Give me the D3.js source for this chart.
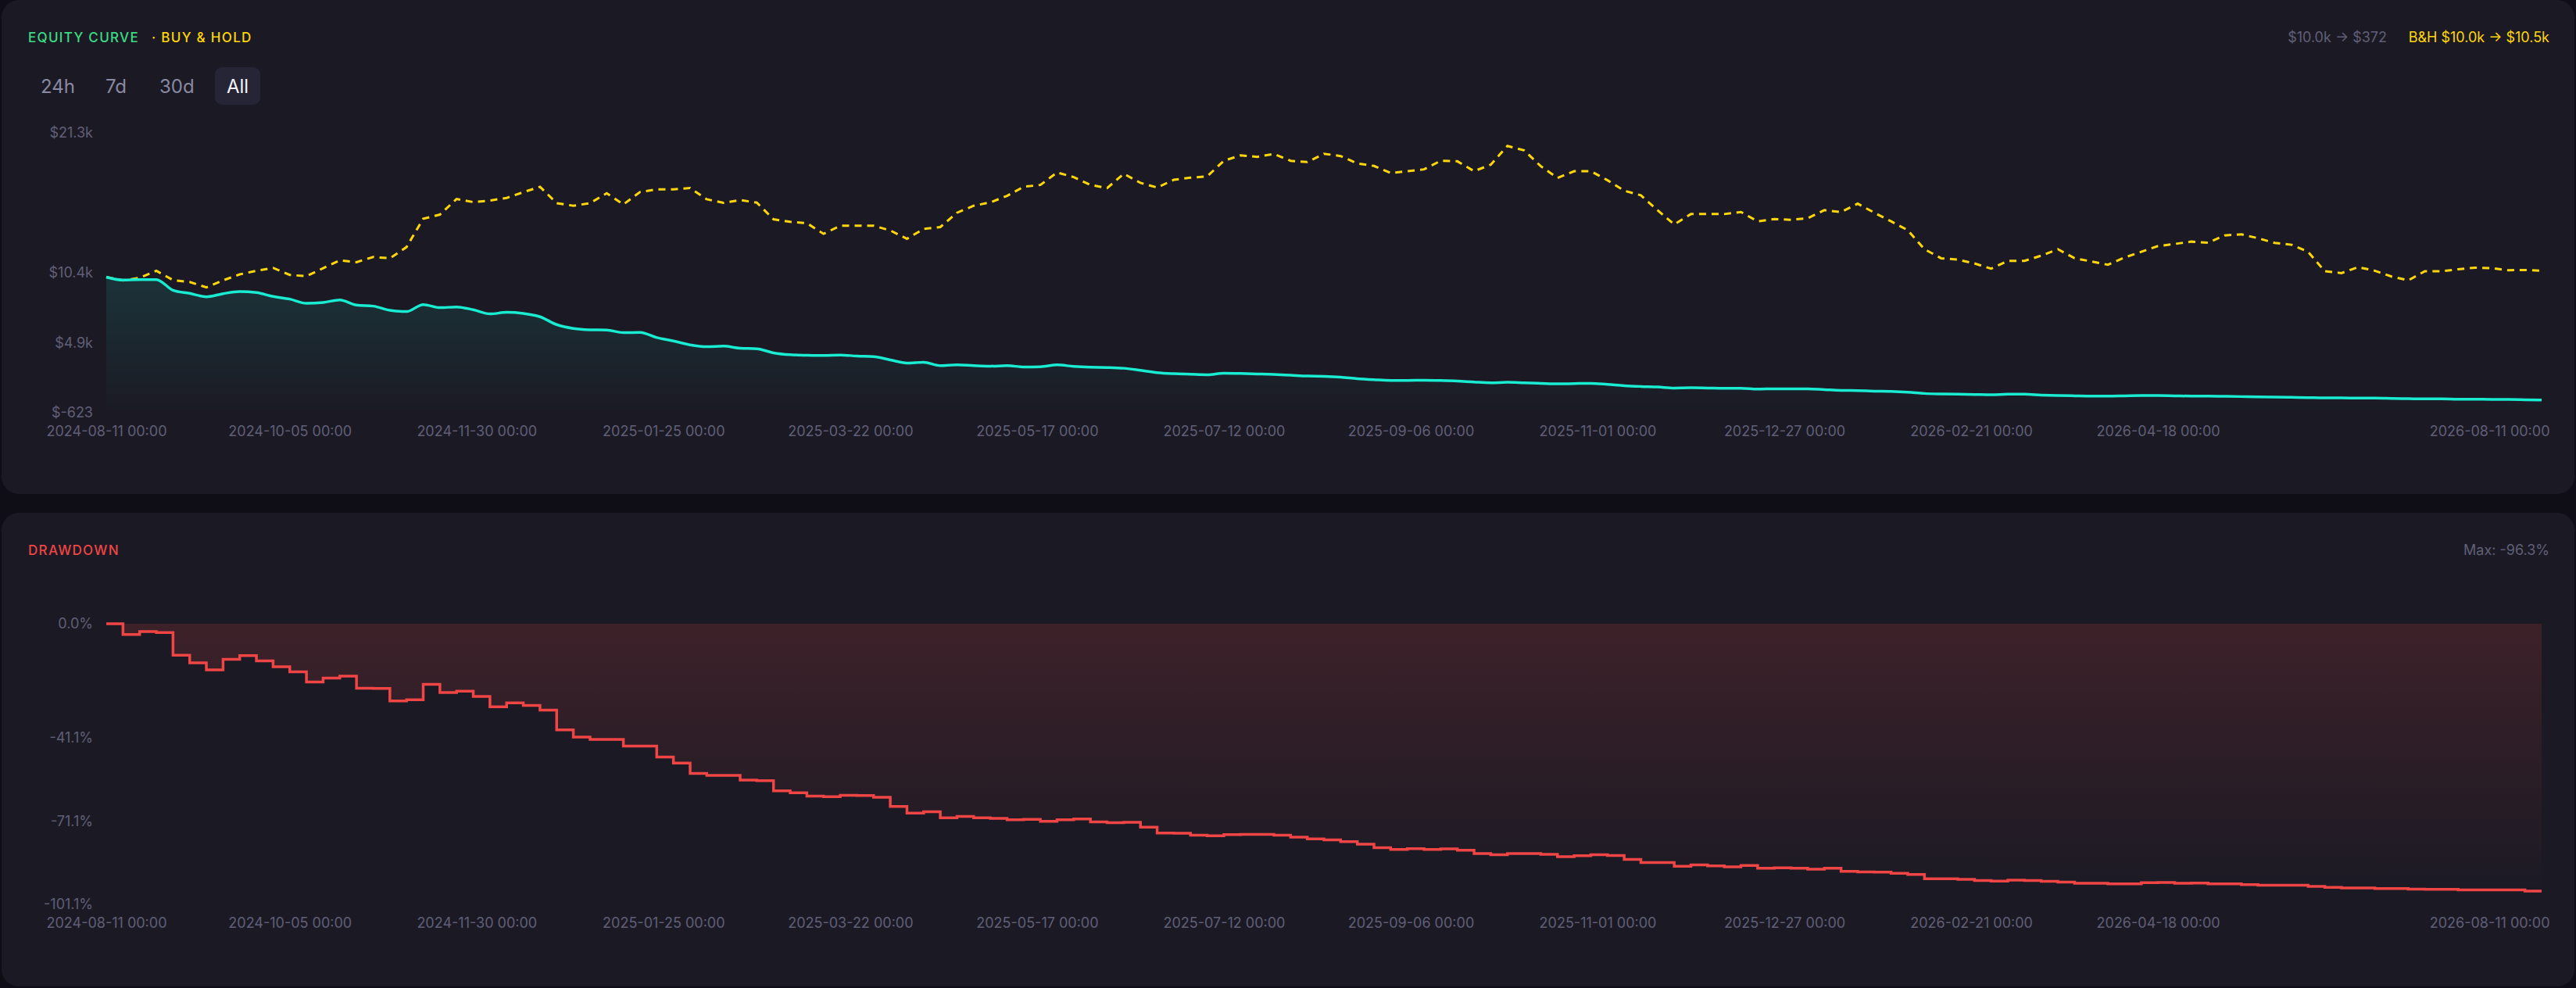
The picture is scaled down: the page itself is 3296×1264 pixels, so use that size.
<!DOCTYPE html>
<html>
<head>
<meta charset="utf-8">
<script src="https://cdn.jsdelivr.net/npm/d3@7"></script>
<style>
  html, body { margin: 0; padding: 0; background: #0f0e17; }
  svg { display: block; font-family: Inter, "Noto Sans", sans-serif; }
</style>
</head>
<body>
<svg id="chart" width="3296" height="1264"></svg>
<script>

// sampled every 5 days from the first date
var startDate = "2024-08-11";
var stepDays = 5;

var equity = [
  10000, 9765, 9806, 9806, 8971, 8726, 8462, 8706, 8869, 8788,
  8482, 8278, 7952, 8013, 8217, 7810, 7728, 7402, 7300, 7850,
  7606, 7667, 7443, 7117, 7239, 7158, 6893, 6282, 5976, 5874,
  5854, 5650, 5671, 5263, 4998, 4693, 4550, 4591, 4428, 4388,
  4062, 3919, 3879, 3858, 3899, 3817, 3777, 3512, 3267, 3328,
  3063, 3124, 3063, 3023, 3063, 2962, 2982, 3124, 3002, 2941,
  2921, 2860, 2697, 2514, 2432, 2391, 2351, 2473, 2452, 2412,
  2371, 2310, 2249, 2229, 2167, 2045, 1964, 1903, 1903, 1923,
  1903, 1862, 1781, 1720, 1760, 1720, 1679, 1638, 1659, 1679,
  1598, 1496, 1435, 1394, 1313, 1333, 1313, 1292, 1292, 1230,
  1251, 1251, 1251, 1190, 1129, 1109, 1068, 1048, 987, 885,
  844, 824, 803, 783, 824, 824, 762, 722, 701, 681,
  681, 701, 722, 722, 701, 681, 681, 660, 640, 620,
  599, 579, 559, 538, 538, 518, 518, 497, 477, 457,
  457, 436, 436, 416, 416, 395, 372
];

var buyHold = [
  10000, 9745, 9948, 10498, 9765, 9622, 9195, 9745, 10213, 10498,
  10722, 10173, 10071, 10702, 11313, 11171, 11578, 11476, 12352, 14572,
  14898, 16120, 15876, 15998, 16202, 16650, 17078, 15795, 15591, 15795,
  16569, 15693, 16671, 16874, 16874, 16976, 16100, 15815, 16039, 15835,
  14532, 14328, 14226, 13391, 14023, 14023, 14023, 13656, 13004, 13780,
  13921, 15041, 15591, 15856, 16365, 17078, 17221, 18198, 17832, 17221,
  16976, 18096, 17383, 17017, 17628, 17791, 17893, 19115, 19543, 19421,
  19645, 19115, 19013, 19665, 19482, 18911, 18708, 18157, 18300, 18443,
  19115, 19074, 18300, 18809, 20276, 19930, 18687, 17771, 18300, 18300,
  17587, 16772, 16406, 15245, 14124, 14939, 14939, 14939, 15102, 14368,
  14552, 14491, 14613, 15245, 15102, 15754, 15041, 14368, 13676, 12189,
  11476, 11374, 11069, 10661, 11273, 11273, 11680, 12189, 11476, 11232,
  10967, 11537, 11985, 12434, 12597, 12780, 12698, 13269, 13351, 13045,
  12678, 12536, 11985, 10458, 10315, 10784, 10498, 10050, 9745, 10458,
  10458, 10621, 10743, 10702, 10539, 10559, 10500
];

var drawdown = [
  0, -3.9, -2.8, -3.2, -11.3, -14.1, -16.6, -12.8, -11.5, -13.4,
  -15.5, -17.3, -21.0, -19.6, -18.9, -23.2, -23.3, -27.8, -27.4, -21.8,
  -24.8, -24.3, -26.2, -29.9, -28.5, -29.4, -31.1, -38.2, -40.8, -41.7,
  -41.7, -44.1, -44.1, -48.0, -50.2, -53.9, -54.6, -54.6, -56.3, -56.5,
  -60.2, -60.9, -62.1, -62.3, -61.8, -61.9, -62.5, -65.8, -68.2, -67.7,
  -69.9, -69.4, -69.9, -70.1, -70.6, -70.5, -71.2, -70.6, -70.3, -71.4,
  -71.7, -71.5, -73.3, -75.4, -75.5, -76.2, -76.4, -76.0, -75.9, -75.9,
  -76.2, -76.9, -77.5, -77.9, -78.5, -79.4, -80.7, -81.3, -81.0, -81.3,
  -81.1, -81.6, -82.8, -83.2, -82.8, -82.8, -83.1, -83.9, -83.6, -83.2,
  -83.5, -84.9, -86.0, -86.0, -87.4, -86.9, -87.2, -87.6, -87.1, -88.1,
  -87.9, -88.1, -88.4, -88.1, -89.2, -89.4, -89.5, -89.9, -90.3, -91.9,
  -91.9, -92.1, -92.5, -92.7, -92.4, -92.5, -92.8, -93.1, -93.5, -93.5,
  -93.7, -93.7, -93.3, -93.2, -93.5, -93.4, -93.7, -93.7, -94.0, -94.2,
  -94.2, -94.2, -94.6, -95.0, -95.2, -95.2, -95.4, -95.4, -95.6, -95.7,
  -95.7, -95.9, -95.9, -95.9, -95.9, -96.3, -96.3
];

var xTickDates = [
  "2024-08-11", "2024-10-05", "2024-11-30", "2025-01-25", "2025-03-22",
  "2025-05-17", "2025-07-12", "2025-09-06", "2025-11-01", "2025-12-27",
  "2026-02-21", "2026-04-18", "2026-08-11"
];

var eqTicks = [-623, 4858, 10339, 21300];
var eqTickLabels = ["$-623", "$4.9k", "$10.4k", "$21.3k"];
var ddTicks = [0, -41.1, -71.1, -101.1];
var ddTickLabels = ["0.0%", "-41.1%", "-71.1%", "-101.1%"];
var rangeButtons = ["24h", "7d", "30d", "All"];


var parseDay = d3.utcParse("%Y-%m-%d");
var t0 = parseDay(startDate);
var dates = equity.map(function(v, i) { return d3.utcDay.offset(t0, i * stepDays); });

var rows = dates.map(function(d, i) {
  return { date: d, eq: equity[i], bh: buyHold[i], dd: drawdown[i] };
});

var svg = d3.select('#chart');
var defs = svg.append('defs');

var C = {
  panel: '#1b1a24',
  muted: '#605f77',
  teal: '#19ecd0',
  gold: '#ffd60a',
  red: '#f04545',
  green: '#3ddc84'
};

// panels
svg.append('rect').attr('x', 2).attr('y', 0).attr('width', 3292).attr('height', 632)
  .attr('rx', 22).attr('fill', C.panel);
svg.append('rect').attr('x', 2).attr('y', 656).attr('width', 3292).attr('height', 606)
  .attr('rx', 22).attr('fill', C.panel);

var x = d3.scaleUtc()
  .domain([dates[0], dates[dates.length - 1]])
  .range([136, 3252]);

var yEq = d3.scaleLinear().domain([-623, 21300]).range([528, 170]);
var yDd = d3.scaleLinear().domain([-101.1, 0]).range([1157, 798]);

function money(v) {
  if (Math.abs(v) >= 1000) return '$' + (v / 1000).toFixed(1) + 'k';
  return '$' + Math.round(v);
}

// gradients
var gEq = defs.append('linearGradient').attr('id', 'eqFill')
  .attr('x1', 0).attr('y1', 0).attr('x2', 0).attr('y2', 1);
gEq.append('stop').attr('offset', '0%').attr('stop-color', C.teal).attr('stop-opacity', 0.12);
gEq.append('stop').attr('offset', '100%').attr('stop-color', C.teal).attr('stop-opacity', 0);

var gDd = defs.append('linearGradient').attr('id', 'ddFill')
  .attr('x1', 0).attr('y1', 0).attr('x2', 0).attr('y2', 1);
gDd.append('stop').attr('offset', '0%').attr('stop-color', C.red).attr('stop-opacity', 0.16);
gDd.append('stop').attr('offset', '100%').attr('stop-color', C.red).attr('stop-opacity', 0.0);

// ---- equity panel ----
var eqG = svg.append('g');

eqG.append('text').attr('x', 36).attr('y', 54)
  .attr('fill', C.green).style('font-size', '17px').style('font-weight', 500)
  .style('letter-spacing', '1.3px').text('EQUITY CURVE');
eqG.append('text').attr('x', 194).attr('y', 54)
  .attr('fill', C.gold).style('font-size', '17px').style('font-weight', 500)
  .style('letter-spacing', '1.3px').text('· BUY & HOLD');

eqG.append('text').attr('x', 3262).attr('y', 54).attr('text-anchor', 'end')
  .attr('fill', C.gold).style('font-size', '18px')
  .text('B&H ' + money(buyHold[0]) + ' → ' + money(buyHold[buyHold.length - 1]));
eqG.append('text').attr('x', 3054).attr('y', 54).attr('text-anchor', 'end')
  .attr('fill', C.muted).style('font-size', '18px')
  .text(money(equity[0]) + ' → ' + money(equity[equity.length - 1]));

// range buttons
var btnX = [52, 135, 204, 304];
eqG.append('rect').attr('x', 275).attr('y', 86).attr('width', 58).attr('height', 48)
  .attr('rx', 9).attr('fill', '#262536');
eqG.selectAll('.btn').data(rangeButtons).enter().append('text')
  .attr('class', 'btn')
  .attr('x', function(d, i) { return btnX[i]; })
  .attr('y', 119)
  .attr('text-anchor', function(d, i) { return i === 3 ? 'middle' : 'start'; })
  .attr('fill', function(d, i) { return i === 3 ? '#f4f4f8' : '#8a89a2'; })
  .style('font-size', '24px')
  .text(function(d) { return d; });

eqG.append('path').datum(rows)
  .attr('fill', 'url(#eqFill)')
  .attr('d', d3.area().curve(d3.curveMonotoneX)
    .x(function(d) { return x(d.date); })
    .y0(yEq(-623))
    .y1(function(d) { return yEq(d.eq); }));

eqG.append('path').datum(rows)
  .attr('fill', 'none').attr('stroke', C.gold).attr('stroke-width', 3)
  .attr('stroke-dasharray', '9,7')
  .attr('d', d3.line()
    .x(function(d) { return x(d.date); })
    .y(function(d) { return yEq(d.bh); }));

eqG.append('path').datum(rows)
  .attr('fill', 'none').attr('stroke', C.teal).attr('stroke-width', 3.5)
  .attr('stroke-linejoin', 'round')
  .attr('d', d3.line().curve(d3.curveMonotoneX)
    .x(function(d) { return x(d.date); })
    .y(function(d) { return yEq(d.eq); }));

function styleAxis(g) {
  g.select('.domain').remove();
  g.selectAll('text').attr('fill', C.muted).style('font-size', '18px')
    .style('font-family', 'Inter, "Noto Sans", sans-serif');
}

var xTicks = xTickDates.map(function(s) { return parseDay(s); });
var fmtX = d3.utcFormat('%Y-%m-%d %H:%M');

function drawXAxis(yPos) {
  var g = svg.append('g').attr('transform', 'translate(0,' + yPos + ')')
    .call(d3.axisBottom(x).tickValues(xTicks).tickFormat(fmtX).tickSize(0).tickPadding(17));
  styleAxis(g);
  g.selectAll('.tick').filter(function(d, i) { return i === xTicks.length - 1; })
    .select('text').attr('text-anchor', 'end').attr('x', 10);
}

var eqAxis = svg.append('g').attr('transform', 'translate(136,0)')
  .call(d3.axisLeft(yEq).tickValues(eqTicks).tickSize(0).tickPadding(17)
    .tickFormat(function(d, i) { return eqTickLabels[i]; }));
styleAxis(eqAxis);
drawXAxis(528);

// ---- drawdown panel ----
var ddG = svg.append('g');

ddG.append('text').attr('x', 36).attr('y', 710)
  .attr('fill', C.red).style('font-size', '17px').style('font-weight', 500)
  .style('letter-spacing', '1.3px').text('DRAWDOWN');
ddG.append('text').attr('x', 3262).attr('y', 710).attr('text-anchor', 'end')
  .attr('fill', C.muted).style('font-size', '18px')
  .text('Max: ' + d3.min(drawdown).toFixed(1) + '%');

ddG.append('path').datum(rows)
  .attr('fill', 'url(#ddFill)')
  .attr('d', d3.area().curve(d3.curveStepAfter)
    .x(function(d) { return x(d.date); })
    .y0(yDd(0))
    .y1(function(d) { return yDd(d.dd); }));

ddG.append('path').datum(rows)
  .attr('fill', 'none').attr('stroke', C.red).attr('stroke-width', 3.5)
  .attr('d', d3.line().curve(d3.curveStepAfter)
    .x(function(d) { return x(d.date); })
    .y(function(d) { return yDd(d.dd); }));

var ddAxis = svg.append('g').attr('transform', 'translate(136,0)')
  .call(d3.axisLeft(yDd).tickValues(ddTicks).tickSize(0).tickPadding(17)
    .tickFormat(function(d, i) { return ddTickLabels[i]; }));
styleAxis(ddAxis);
drawXAxis(1157);

</script>
</body>
</html>
